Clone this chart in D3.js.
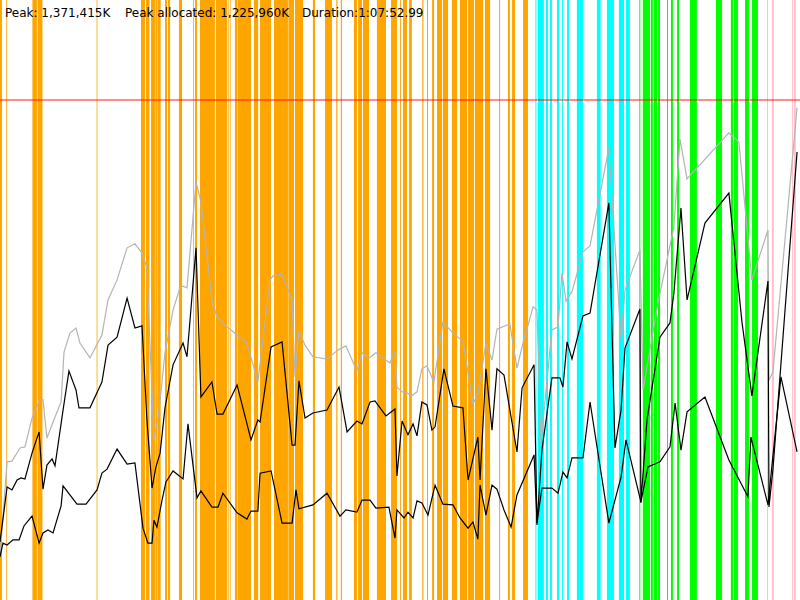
<!DOCTYPE html>
<html>
<head>
<meta charset="utf-8">
<script src="https://cdn.jsdelivr.net/npm/d3@7"></script>
<style>
  body { margin: 0; background: #fff; }
  #chart svg { display: block; }
</style>
</head>
<body>
<div id="chart"></div>
<script>
// Run summary
const peakMB = 1371.415;          // Peak: 1,371,415K
const peakAllocatedMB = 1225.96;  // Peak allocated: 1,225,960K
const durationSec = 4072.99;      // 1:07:52.99
const headerLabels = ['Peak: 1,371,415K', 'Peak allocated: 1,225,960K', 'Duration:1:07:52.99'];

// GC pauses, [start s, end s]
const youngGC = [
  [0, 10], [32, 36], [165, 188], [191, 216], [492, 496], [718, 738], [743, 761],
  [769, 789], [791, 799], [801, 818], [840, 850], [855, 866], [911, 927], [983, 987],
  [993, 1003], [1018, 1094], [1099, 1156], [1160, 1164], [1170, 1174], [1196, 1207],
  [1209, 1278], [1293, 1314], [1324, 1380], [1395, 1466], [1468, 1497],
  [1502, 1543], [1593, 1604], [1655, 1690], [1712, 1718], [1735, 1741], [1802, 1818],
  [1823, 1843], [1848, 1879], [1919, 1965], [1991, 2021], [2037, 2042], [2052, 2072],
  [2083, 2097], [2150, 2156], [2174, 2179], [2200, 2210], [2225, 2250], [2255, 2281],
  [2301, 2327], [2342, 2378], [2383, 2413], [2418, 2459], [2469, 2495], [2541, 2546],
  [2586, 2596], [2607, 2622], [2663, 2688],
];
const mixedGC = [
  [2726, 2731], [2739, 2769], [2780, 2790], [2800, 2810], [2836, 2846], [2861, 2866],
  [2887, 2897], [2937, 2968], [3039, 3058], [3090, 3126], [3151, 3177], [3187, 3207],
];
const concurrentGC = [
  [3255, 3260], [3273, 3309], [3314, 3324], [3329, 3345], [3350, 3360], [3396, 3401],
  [3416, 3426], [3447, 3457], [3513, 3548], [3645, 3676], [3721, 3732], [3737, 3757],
  [3793, 3813], [3828, 3859],
];
const fullGC = [[3905, 3910], [3930, 3940], [4032, 4037], [4042, 4052]];

// Memory samples, [time s, MB]
const heapSize = [
  [0, 120], [36, 379], [61, 381], [102, 417], [127, 420], [163, 499], [204, 551], [219, 549],
  [239, 444], [280, 502], [311, 543], [326, 680], [356, 732], [387, 746], [407, 705],
  [458, 664], [519, 727], [550, 823], [596, 878], [647, 966], [687, 977], [723, 952],
  [748, 911], [784, 439], [809, 516], [840, 678], [881, 795], [916, 856], [932, 861],
  [952, 856], [998, 1147], [1023, 1092], [1079, 823], [1105, 776], [1156, 749], [1257, 705],
  [1313, 598], [1375, 878], [1390, 889], [1436, 894], [1487, 823], [1502, 612], [1522, 738],
  [1553, 699], [1593, 667], [1665, 661], [1721, 686], [1761, 697], [1817, 628], [1843, 678],
  [1879, 664], [1914, 678], [1985, 650], [2011, 683], [2021, 584], [2047, 571], [2072, 568],
  [2097, 560], [2123, 571], [2148, 634], [2174, 642], [2209, 598], [2255, 763], [2306, 732],
  [2357, 710], [2408, 538], [2433, 565], [2474, 705], [2505, 658], [2530, 743], [2596, 757],
  [2632, 636], [2663, 705], [2714, 804], [2734, 795], [2754, 431], [2810, 741], [2841, 749],
  [2861, 897], [2882, 820], [2912, 845], [2968, 955], [3004, 971], [3100, 1240], [3162, 713],
  [3182, 850], [3258, 960], [3274, 576], [3350, 815], [3431, 1023], [3462, 1264], [3498, 1155],
  [3711, 1281], [3762, 1256], [3828, 878], [3910, 1015], [3915, 603], [3935, 625], [4058, 1350],
];
const usedBefore = [
  [0, 159], [36, 310], [61, 302], [87, 329], [107, 335], [127, 332], [163, 403], [199, 461],
  [219, 304], [239, 370], [265, 387], [280, 368], [321, 521], [351, 628], [387, 576],
  [402, 527], [458, 527], [519, 598], [550, 699], [596, 721], [647, 828], [687, 746],
  [723, 752], [748, 494], [774, 307], [794, 365], [815, 403], [840, 527], [881, 645],
  [932, 705], [952, 667], [998, 966], [1023, 557], [1079, 598], [1105, 510], [1135, 510],
  [1207, 590], [1278, 439], [1313, 494], [1324, 488], [1380, 694], [1436, 708], [1487, 425],
  [1502, 425], [1522, 601], [1553, 499], [1593, 513], [1665, 521], [1726, 584], [1767, 461],
  [1817, 491], [1843, 483], [1884, 543], [1909, 546], [1965, 505], [2011, 524], [2021, 340],
  [2047, 491], [2077, 453], [2103, 483], [2123, 450], [2148, 543], [2174, 535], [2199, 466],
  [2215, 475], [2260, 634], [2306, 532], [2357, 527], [2383, 329], [2433, 447], [2444, 329],
  [2474, 634], [2505, 466], [2530, 634], [2566, 617], [2632, 406], [2658, 582], [2719, 645],
  [2734, 206], [2759, 411], [2810, 609], [2851, 609], [2866, 584], [2887, 708], [2912, 661],
  [2968, 779], [3004, 787], [3100, 1089], [3131, 417], [3162, 521], [3182, 691], [3258, 798],
  [3263, 266], [3294, 494], [3360, 721], [3411, 760], [3431, 842], [3467, 1075], [3498, 823],
  [3589, 1034], [3711, 1116], [3778, 760], [3828, 560], [3910, 875], [3915, 255], [3935, 357],
  [4058, 1229],
];
const usedAfter = [
  [0, 118], [15, 156], [36, 151], [66, 165], [97, 165], [122, 203], [163, 230], [199, 156],
  [219, 184], [244, 192], [270, 184], [311, 258], [321, 313], [392, 263], [438, 263],
  [494, 302], [519, 348], [545, 359], [596, 414], [647, 373], [687, 376], [728, 197],
  [753, 156], [774, 156], [784, 219], [799, 200], [825, 274], [845, 324], [881, 354],
  [932, 332], [957, 483], [1003, 280], [1023, 299], [1079, 255], [1110, 255], [1135, 293],
  [1207, 239], [1257, 222], [1278, 244], [1313, 244], [1324, 348], [1380, 354], [1436, 211],
  [1487, 211], [1507, 302], [1522, 250], [1593, 261], [1665, 293], [1731, 230], [1761, 247],
  [1817, 241], [1843, 274], [1884, 274], [1914, 252], [1980, 255], [2011, 170], [2021, 247],
  [2057, 225], [2077, 241], [2103, 225], [2123, 272], [2148, 266], [2179, 233], [2215, 315],
  [2255, 263], [2306, 261], [2342, 225], [2383, 197], [2408, 214], [2433, 167], [2444, 315],
  [2474, 233], [2505, 315], [2530, 304], [2566, 247], [2602, 200], [2632, 288], [2719, 398],
  [2734, 211], [2759, 307], [2810, 307], [2841, 293], [2866, 351], [2887, 335], [2912, 390],
  [2968, 390], [3004, 543], [3100, 211], [3162, 337], [3187, 439], [3263, 269], [3299, 365],
  [3360, 379], [3411, 420], [3437, 540], [3467, 411], [3498, 516], [3589, 557], [3711, 384],
  [3808, 283], [3823, 447], [3910, 261], [3976, 612], [4058, 406],
];

const width = 800;
const height = 600;

const svg = d3.select('#chart').append('svg')
  .attr('width', width)
  .attr('height', height);

const x = d3.scaleLinear().domain([0, durationSec]).range([0, width]);
const y = d3.scaleLinear().domain([0, peakMB * 1.2]).range([height, 0]);

// GC pause bands
const bands = [
  { data: youngGC, color: '#ffa500' },
  { data: mixedGC, color: '#00ffff' },
  { data: concurrentGC, color: '#00ff00' },
  { data: fullGC, color: '#ffc0cb' },
];

bands.forEach((b) => {
  svg.append('g')
    .selectAll('rect')
    .data(b.data)
    .enter()
    .append('rect')
    .attr('x', (d) => x(d[0]))
    .attr('y', 0)
    .attr('width', (d) => Math.max(0.6, x(d[1]) - x(d[0])))
    .attr('height', height)
    .attr('fill', b.color);
});

// Peak line
svg.append('line')
  .attr('x1', 0)
  .attr('x2', width)
  .attr('y1', y(peakMB))
  .attr('y2', y(peakMB))
  .attr('stroke', 'red')
  .attr('stroke-opacity', 0.6)
  .attr('stroke-width', 1.5);

const line = d3.line()
  .x((d) => x(d[0]))
  .y((d) => y(d[1]));

const series = [
  { data: heapSize, color: '#b4b4b4' },
  { data: usedBefore, color: '#000' },
  { data: usedAfter, color: '#000' },
];

series.forEach((s) => {
  svg.append('path')
    .datum(s.data)
    .attr('d', line)
    .attr('fill', 'none')
    .attr('stroke', s.color)
    .attr('stroke-width', 1.2);
});

// Header text
const labelX = [5, 125, 302];
svg.append('g')
  .selectAll('text')
  .data(headerLabels)
  .enter()
  .append('text')
  .attr('x', (d, i) => labelX[i])
  .attr('y', 17)
  .attr('font-family', 'DejaVu Sans, sans-serif')
  .attr('font-size', '12px')
  .attr('fill', '#000')
  .text((d) => d);
</script>
</body>
</html>
